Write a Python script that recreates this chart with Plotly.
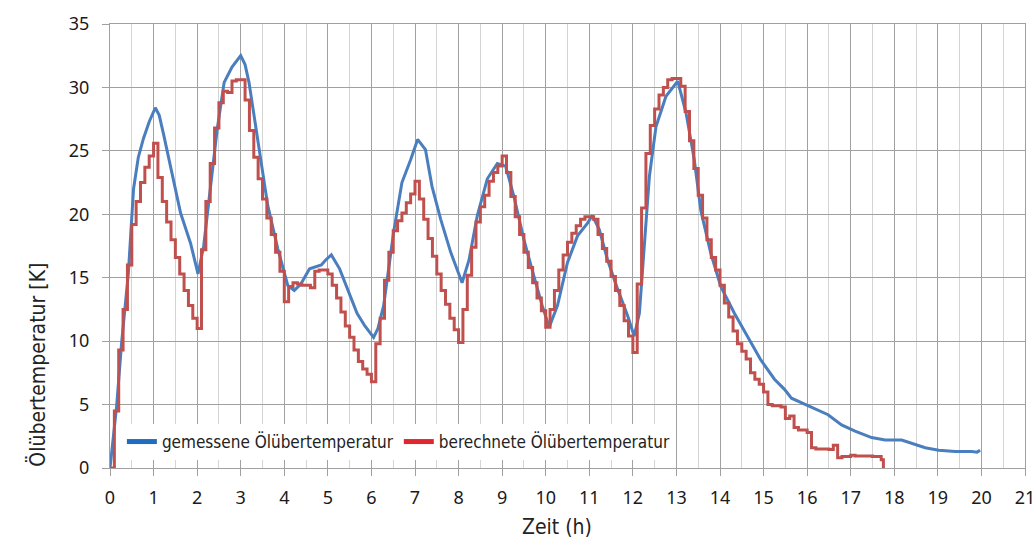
import numpy as np
import plotly.graph_objects as go

# ---------------- data ----------------
# measured oil temperature rise (blue), time in h, value in K
blue_t = [0, 0.15, 0.27, 0.42, 0.54, 0.65, 0.77, 0.9, 1.04, 1.13, 1.23, 1.42, 1.62, 1.85, 2.02,
          2.15, 2.31, 2.46, 2.62, 2.8, 3.0, 3.1, 3.19, 3.38, 3.62, 3.85, 4.08, 4.23, 4.38, 4.58,
          4.85, 4.95, 5.08, 5.27, 5.46, 5.67, 5.85, 6.05, 6.15, 6.28, 6.51, 6.7, 6.9, 7.06, 7.24,
          7.39, 7.59, 7.82, 8.08, 8.24, 8.43, 8.66, 8.89, 9.08, 9.27, 9.5, 9.73, 9.92, 10.08, 10.27,
          10.5, 10.73, 10.96, 11.07, 11.23, 11.42, 11.65, 11.88, 12.03, 12.15, 12.26, 12.38, 12.53,
          12.76, 13.03, 13.22, 13.41, 13.56, 13.79, 14.02, 14.33, 14.64, 14.94, 15.25, 15.48, 15.64,
          16.02, 16.48, 16.79, 17.1, 17.48, 17.79, 18.17, 18.48, 18.71, 19.02, 19.4, 19.78, 19.9, 19.97]
blue_k = [0, 4.8, 10, 15.3, 22, 24.5, 26, 27.3, 28.4, 27.8, 26.3, 23.2, 20.1, 17.7, 15.3,
          17.5, 22, 26.7, 30.4, 31.6, 32.5, 31.8, 30.4, 26, 20.7, 17.3, 14.4, 14.0, 14.5, 15.7,
          16.0, 16.4, 16.8, 15.7, 14, 12.2, 11.2, 10.3, 11.0, 12.8, 18.6, 22.5, 24.3, 25.9, 25.1,
          22.2, 19.6, 17, 14.6, 16.4, 19.9, 22.8, 24, 23.8, 21.4, 18, 15.1, 12.8, 11.1, 12.8,
          16.2, 18.3, 19.3, 19.9, 18.8, 16.4, 14.1, 12, 10.4, 12.2, 17.4, 23, 26.9,
          29.3, 30.5, 28, 24.3, 20.3, 16.9, 14.3, 12.2, 10.3, 8.5, 7.0, 6.2, 5.5,
          4.9, 4.2, 3.4, 2.9, 2.4, 2.2, 2.2, 1.85, 1.6, 1.4, 1.3, 1.3, 1.25, 1.4]

# calculated oil temperature rise (red), step values every 0.1 h from t = 0
red_dt = 0.1
red_k = [0.0, 4.5, 9.3, 12.5, 16.0, 19.2, 21.0, 22.5, 23.7, 24.6,
         25.6, 22.9, 21.0, 19.4, 18.0, 16.6, 15.3, 14.0, 12.8, 11.8,
         11.0, 17.2, 21.0, 24.0, 26.8, 28.8, 29.7, 29.6, 30.5, 30.6,
         30.6, 29.0, 26.6, 24.5, 22.8, 21.2, 19.7, 18.4, 17.0, 15.5,
         13.1, 14.3, 14.6, 14.5, 14.4, 14.4, 14.2, 15.5, 15.6, 15.6,
         15.3, 14.4, 13.4, 12.3, 11.2, 10.3, 9.3, 8.4, 7.8, 7.4,
         6.8, 9.8, 11.8, 14.8, 17.0, 18.7, 19.5, 20.1, 20.9, 21.6,
         22.6, 21.2, 19.6, 18.1, 16.7, 15.3, 14.0, 12.9, 11.8, 10.9,
         9.9, 12.5, 15.2, 17.4, 19.4, 20.6, 21.5, 22.6, 23.3, 23.8,
         24.6, 23.3, 21.4, 19.8, 18.4, 17.0, 15.8, 14.6, 13.4, 12.4,
         11.1, 12.5, 14.0, 15.6, 16.8, 17.8, 18.5, 19.1, 19.6, 19.8,
         19.8, 19.6, 18.4, 17.3, 16.3, 15.1, 14.0, 12.8, 11.6, 10.4,
         9.1, 14.5, 20.5, 24.8, 27.0, 28.3, 29.4, 30.0, 30.6, 30.7,
         30.7, 30.1, 28.1, 25.8, 23.6, 21.5, 19.7, 18.0, 16.6, 15.6,
         14.4, 13.0, 11.9, 10.8, 9.8, 9.2, 8.6, 7.5, 7.0, 6.6,
         6.0, 5.0, 4.9, 4.9, 4.8, 3.9, 4.1, 3.2, 3.0, 3.0,
         2.8, 1.6, 1.5, 1.5, 1.5, 1.45, 1.8, 0.8, 0.9, 0.9,
         1.0, 0.95, 0.95, 0.95, 0.95, 0.9, 0.9, 0.65]
red_end_t = 17.75
red_end_k = 0.0

x_ticks = list(range(0, 22))
y_ticks = [0, 5, 10, 15, 20, 25, 30, 35]

name_blue = "gemessene Ölübertemperatur"
name_red = "berechnete Ölübertemperatur"
x_title = "Zeit (h)"
y_title = "Ölübertemperatur [K]"

# ---------------- figure ----------------
red_t = [round(i * red_dt, 2) for i in range(len(red_k))] + [red_end_t]
red_y = red_k + [red_end_k]

LINE_BLUE = "#4A7EBE"
LINE_RED = "#C0504D"
NARROW = "Liberation Sans Narrow, DejaVu Sans Condensed, Arial Narrow, sans-serif"
TICKFONT = dict(family="Noto Sans, Open Sans, sans-serif", size=18, color="#1a1a1a")

fig = go.Figure()
fig.add_trace(go.Scatter(x=blue_t, y=blue_k, mode="lines", showlegend=False,
                         line=dict(color=LINE_BLUE, width=3)))
fig.add_trace(go.Scatter(x=red_t, y=red_y, mode="lines", showlegend=False,
                         line=dict(color=LINE_RED, width=3, shape="hv")))
# legend entries
fig.add_trace(go.Scatter(x=[None], y=[None], mode="lines", name=name_blue,
                         line=dict(color="#1F6CC0", width=5)))
fig.add_trace(go.Scatter(x=[None], y=[None], mode="lines", name=name_red,
                         line=dict(color="#E0262F", width=5)))

axis_common = dict(
    showline=True, linecolor="#a0a0a0", linewidth=1.3, mirror=True,
    ticks="outside", ticklen=7, tickcolor="#a0a0a0", tickwidth=1.3,
    showgrid=True, gridcolor="#a0a0a0", gridwidth=1.3, zeroline=False,
    tickfont=TICKFONT, ticklabeloverflow="allow", automargin=False,
)

fig.update_layout(
    width=1033, height=539,
    margin=dict(l=110, r=8, t=24, b=71, autoexpand=False),
    paper_bgcolor="white", plot_bgcolor="white",
    xaxis=dict(range=[0, 21], tickvals=x_ticks, ticktext=[str(v) for v in x_ticks],
               minor=dict(dtick=0.5, tick0=0, showgrid=True, gridcolor="#d4d4d4", gridwidth=1.3),
               ticklabelstandoff=6, **axis_common),
    yaxis=dict(range=[0, 35], tickvals=y_ticks, ticktext=[str(v) for v in y_ticks],
               ticklabelstandoff=9, **axis_common),
    legend=dict(orientation="h", x=0.013, y=0.018, xanchor="left", yanchor="bottom",
                bgcolor="white", font=dict(family=NARROW, size=17, color="#222"),
                itemwidth=30, tracegroupgap=0),
    annotations=[
        dict(text=y_title, xref="paper", yref="paper", x=-0.079, y=0.232,
             xanchor="center", yanchor="middle", textangle=-90, showarrow=False,
             font=dict(family=NARROW, size=21, color="#222")),
        dict(text=x_title, xref="paper", yref="paper", x=0.4885, y=-0.133,
             xanchor="center", yanchor="middle", showarrow=False,
             font=dict(family=NARROW, size=21, color="#222")),
    ],
)

# remove the browser's default 8 px body margin so the figure fills the window exactly
fig.write_html("out.html",
               config={"displayModeBar": False},
               post_script="document.body.style.margin='0';document.body.style.overflow='hidden';")
